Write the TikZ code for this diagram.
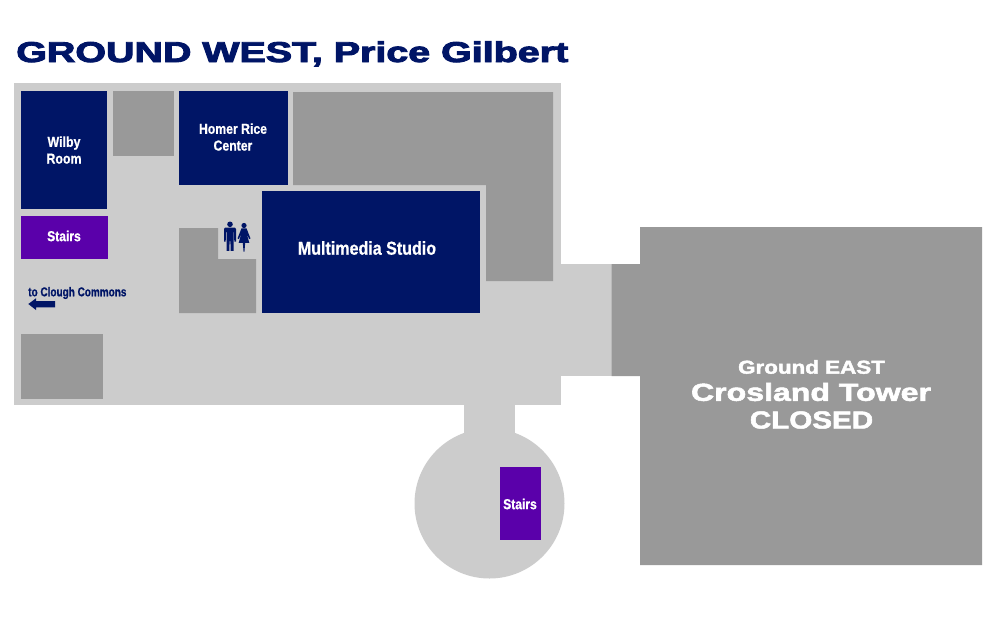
\documentclass[tikz,border=0pt]{standalone}
\usepackage{fontspec}
\usepackage{graphicx}
\setmainfont{Liberation Sans}
\newfontfamily\heavier[FakeBold=3]{Liberation Sans Bold}
\newfontfamily\heavy[FakeBold=2]{Liberation Sans Bold}
\newfontfamily\semi[FakeBold=0.8]{Liberation Sans Bold}
\definecolor{navyc}{HTML}{001566}
\definecolor{purplec}{HTML}{5A00AA}
\definecolor{floorc}{HTML}{CCCCCC}
\definecolor{wallc}{HTML}{999999}
\newcommand{\cond}[2]{\scalebox{#1}[1]{#2}}
\tikzset{
  x=0.75pt,y=-0.75pt,
  floorpart/.style={fill=floorc,draw=none},
  graypart/.style={fill=wallc,draw=none},
  navyroom/.style={fill=navyc,draw=none},
  purpleroom/.style={fill=purplec,draw=none},
  lbl/.style={inner sep=0pt,text=white,font=\semi\fontsize{10.8pt}{12.6pt}\selectfont,align=center},
  biglbl/.style={inner sep=0pt,text=white},
  icon/.style={fill=navyc,draw=none}
}
\begin{document}
\begin{tikzpicture}
\useasboundingbox (0,0) rectangle (1000,619);
\fill[white] (0,0) rectangle (1000,619);
% floor
\fill[floorpart] (14,83) rectangle (561,405);
\fill[floorpart] (561,264) rectangle (612,376);
\fill[floorpart] (464,405) rectangle (515,440);
\fill[floorpart] (489.5,503.5) circle[radius=75];
% gray blocks
\fill[graypart] (113,91) rectangle (174,156);
\fill[graypart] (293,92) -- (553,92) -- (553,281) -- (486,281) -- (486,185) -- (293,185) -- cycle;
\fill[graypart] (179,228) -- (218,228) -- (218,259) -- (256,259) -- (256,313) -- (179,313) -- cycle;
\fill[graypart] (21,334) rectangle (103,399);
\fill[graypart] (640,227) -- (982,227) -- (982,565) -- (640,565) -- (640,376) -- (611.5,376) -- (611.5,264) -- (640,264) -- cycle;
% rooms
\fill[navyroom] (21,91) rectangle (107,209);
\fill[navyroom] (179,91) rectangle (288,185);
\fill[navyroom] (262,191) rectangle (480,313);
\fill[purpleroom] (21,216) rectangle (108,259);
\fill[purpleroom] (500,467) rectangle (541,540);
% title
\node[inner sep=0pt,anchor=base west,text=navyc,font=\heavier\fontsize{21.5pt}{24pt}\selectfont] (title) at (16,62) {\scalebox{1.375}[1]{GROUND WEST, Price Gilbert}};
% labels
\node[lbl] (wilby) at (64,150) {\cond{0.86}{Wilby}\\\cond{0.86}{Room}};
\node[lbl] (homer) at (233,137) {\cond{0.85}{Homer Rice}\\\cond{0.85}{Center}};
\node[lbl] (stairsa) at (64,236) {\cond{0.84}{Stairs}};
\node[lbl] (stairsb) at (520,504) {\cond{0.84}{Stairs}};
\node[biglbl,font=\semi\fontsize{14pt}{16pt}\selectfont] (mm) at (367,248) {\cond{0.86}{Multimedia Studio}};
\node[inner sep=0pt,anchor=west,text=navyc,font=\semi\fontsize{9.6pt}{10pt}\selectfont] (clough) at (28,293) {\cond{0.78}{to Clough Commons}};
\node[biglbl,font=\heavy\fontsize{14pt}{16pt}\selectfont] (geast) at (811.5,367) {\cond{1.2}{Ground EAST}};
\node[biglbl,font=\heavy\fontsize{18.5pt}{20pt}\selectfont] (crosland) at (811,392) {\cond{1.3}{Crosland Tower}};
\node[biglbl,font=\heavy\fontsize{18.5pt}{20pt}\selectfont] (closed) at (811.5,420) {\cond{1.2}{CLOSED}};
% arrow
\fill[icon] (28.3,304) -- (36,298.3) -- (36,301) -- (55,301) -- (55,307.3) -- (36,307.3) -- (36,310) -- cycle;
% man
\fill[icon] (230,224.3) circle[radius=2.8];
\fill[icon] (225,227.7) -- (235,227.7) -- (236,229) -- (236,241.5) -- (234.3,241.5) -- (234,232) -- (233.5,232) -- (233.5,250.8) -- (230.7,250.8) -- (230.4,241) -- (229.6,241) -- (229.3,250.8) -- (226.5,250.8) -- (226.5,232) -- (226,232) -- (225.7,241.5) -- (224,241.5) -- (224,229) -- cycle;
% woman
\fill[icon] (244,225.5) circle[radius=2.6];
\fill[icon] (241.5,228.3) -- (246.5,228.3) -- (250.5,238.5) -- (249.2,239) -- (246.6,233.5) -- (249.3,242.8) -- (245.2,242.8) -- (244.4,251.8) -- (243.6,251.8) -- (242.8,242.8) -- (238.7,242.8) -- (241.4,233.5) -- (238.8,239) -- (237.5,238.5) -- cycle;
\end{tikzpicture}
\end{document}
